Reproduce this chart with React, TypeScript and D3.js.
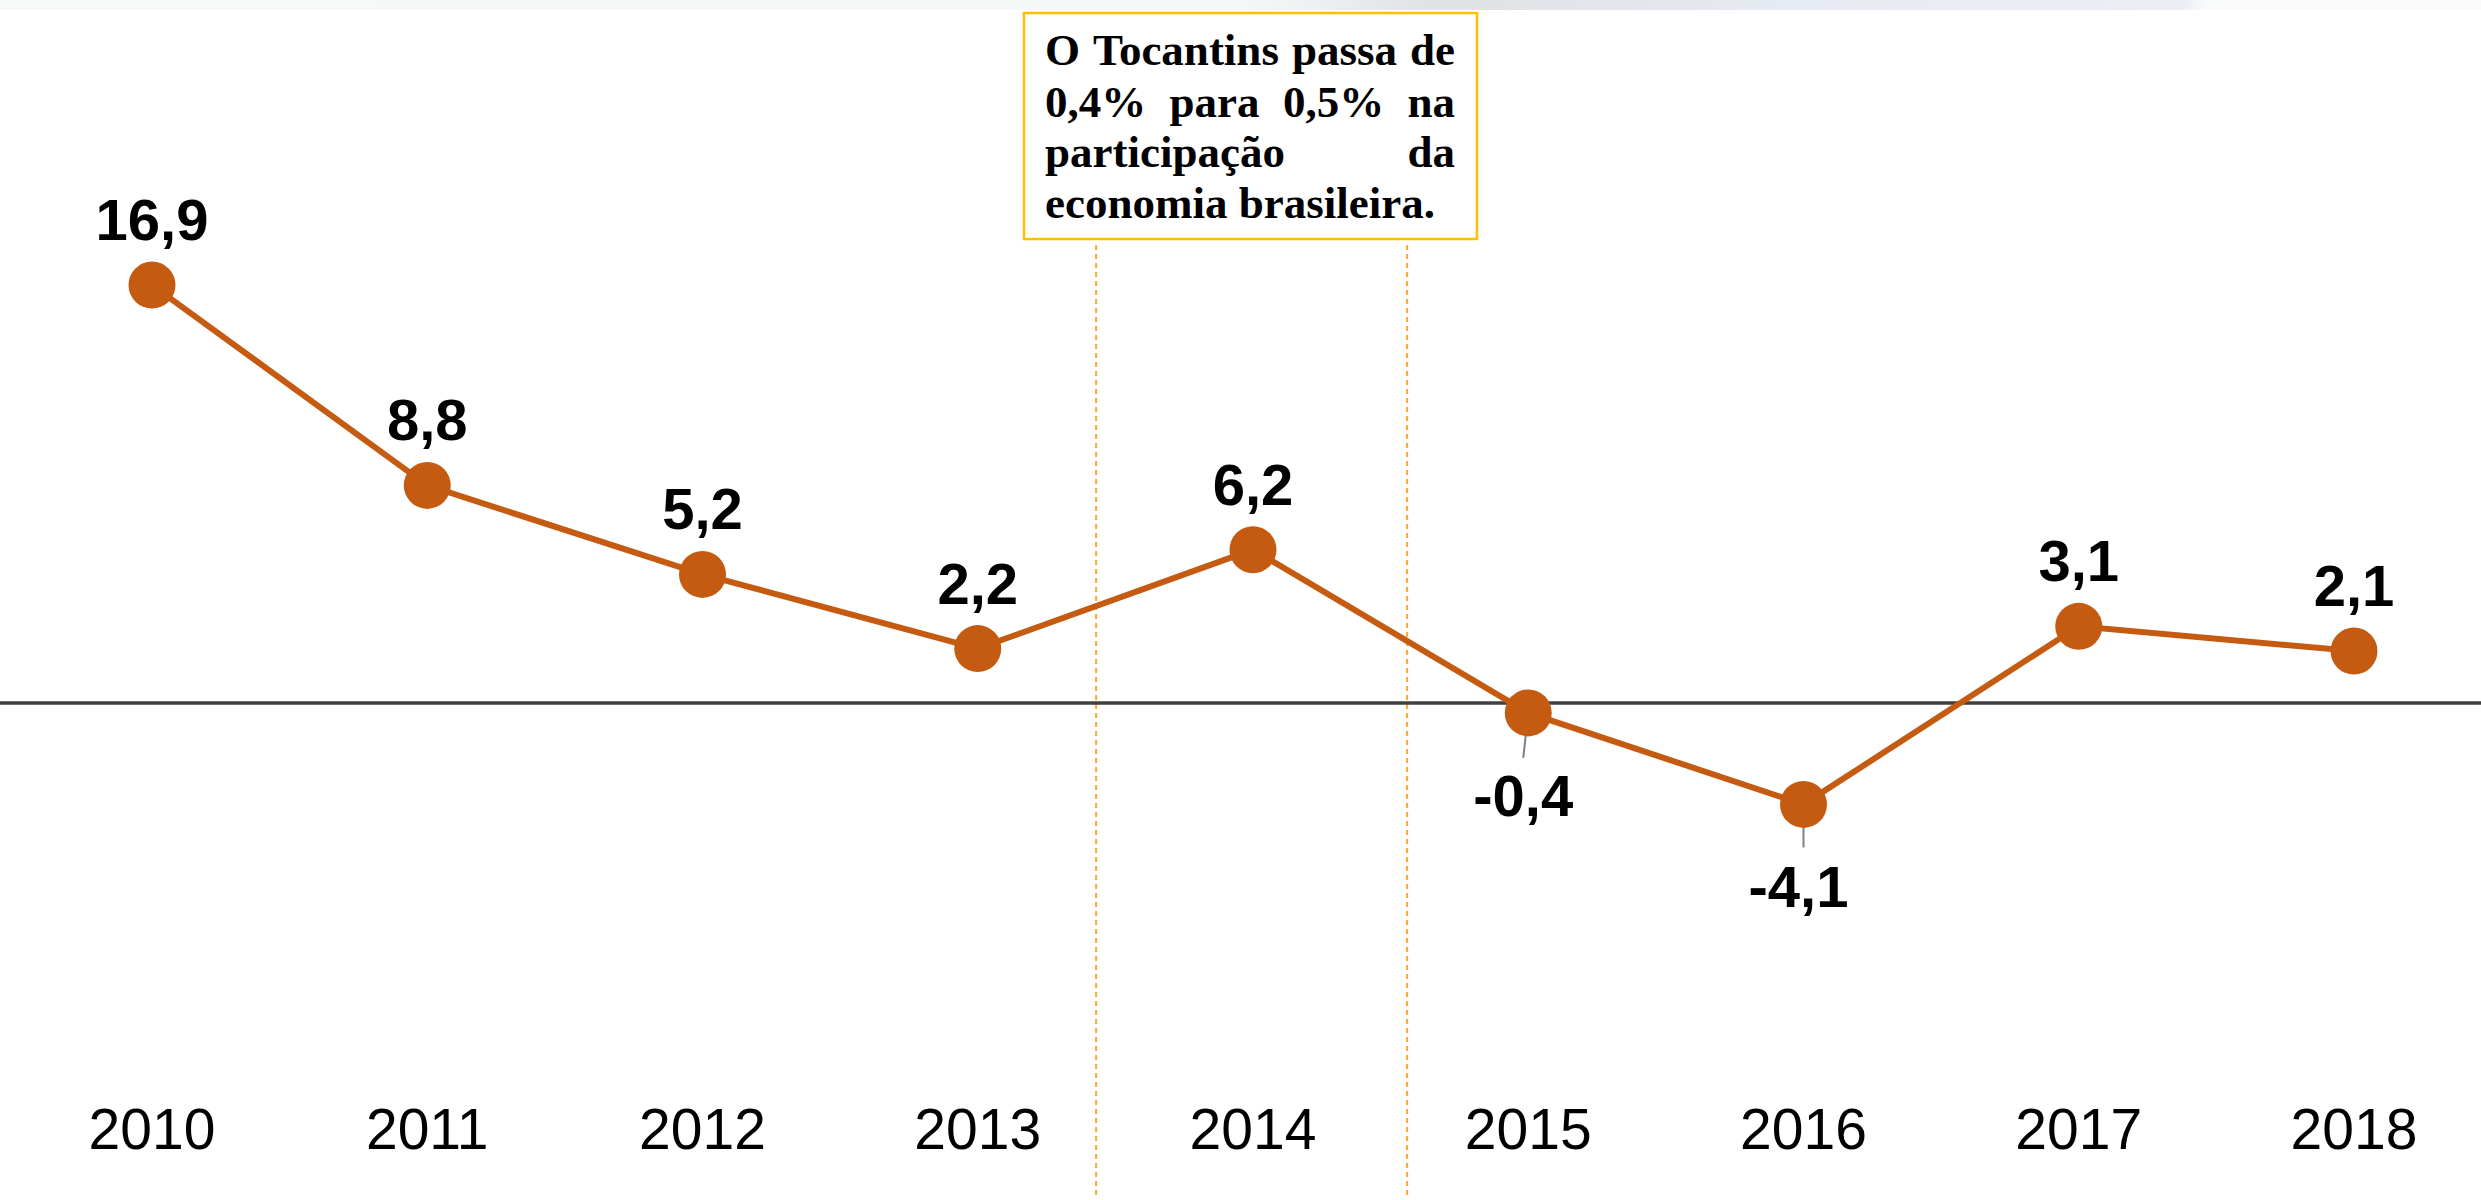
import * as d3 from 'd3';
import React from 'react';

const years = ['2010', '2011', '2012', '2013', '2014', '2015', '2016', '2017', '2018'];
const growth = [16.9, 8.8, 5.2, 2.2, 6.2, -0.4, -4.1, 3.1, 2.1];
const growthLabels = ['16,9', '8,8', '5,2', '2,2', '6,2', '-0,4', '-4,1', '3,1', '2,1'];
// dashed guides framing 2014, as fractional year positions
const guideYears = [2013.43, 2014.56];
const noteLines = [
    'O Tocantins passa de',
    '0,4% para 0,5% na',
    'participação da',
    'economia brasileira.'
];

const W = 2481, H = 1200;
const orange = '#C55A11';
const noteFont = "bold 45px 'Liberation Serif'";

function measure(text, font) {
    const ctx = document.createElement('canvas').getContext('2d');
    ctx.font = font;
    return ctx.measureText(text).width;
}

// place words so that a line fills [left, right]; last line stays left aligned
function justify(line, left, right, last) {
    const words = line.split(' ');
    const widths = words.map(w => measure(w, noteFont));
    if (last || words.length < 2) {
        const sp = measure(' ', noteFont);
        let x = left;
        return words.map((w, i) => { const p = { w, x }; x += widths[i] + sp; return p; });
    }
    const gap = (right - left - d3.sum(widths)) / (words.length - 1);
    let x = left;
    return words.map((w, i) => { const p = { w, x }; x += widths[i] + gap; return p; });
}

export default function App() {
    const x = d3.scalePoint().domain(years).range([152, 2354]);
    const y = d3.scaleLinear().domain([-10, 20]).range([950.3, 208.4]);
    // same mapping as x, but numeric, for the guides
    const xYear = d3.scaleLinear().domain([+years[0], +years[years.length - 1]]).range(x.range());

    const line = d3.line()
        .x((d, i) => x(years[i]))
        .y(d => y(d));

    const box = { x: 1024, y: 13, w: 453, h: 226 };
    const textLeft = 1045, textRight = 1455;
    const baselines = [65, 117, 167, 218];

    return (
        <svg width={W} height={H} style={{ position: 'absolute', left: 0, top: 0, background: '#fff' }}>
            <defs>
                <linearGradient id="topStrip" x1="0" x2="1" y1="0" y2="0">
                    <stop offset="0" stopColor="#f7f9f9" />
                    <stop offset="0.5" stopColor="#f6f8f8" />
                    <stop offset="0.58" stopColor="#dfe1e4" />
                    <stop offset="0.72" stopColor="#e6eaf2" />
                    <stop offset="0.88" stopColor="#eceef4" />
                    <stop offset="0.89" stopColor="#fafbfb" />
                    <stop offset="1" stopColor="#fbfbfb" />
                </linearGradient>
            </defs>
            <rect x={0} y={0} width={W} height={10} fill="url(#topStrip)" />

            {guideYears.map((gy, i) => (
                <line key={i} x1={xYear(gy)} x2={xYear(gy)} y1={box.y + box.h + 6} y2={H - 3}
                    stroke="#FFA62B" strokeWidth={2} strokeDasharray="5,4" />
            ))}

            <line x1={0} x2={W} y1={y(0)} y2={y(0)} stroke="#404040" strokeWidth={3.5} />

            <path d={line(growth)} fill="none" stroke={orange} strokeWidth={6} />

            {growth.map((v, i) => v < 0 ? (
                <line key={'l' + i} x1={x(years[i])} y1={y(v)}
                    x2={x(years[i]) - (i === 5 ? 5 : 0)} y2={y(v) + (i === 5 ? 45 : 43)}
                    stroke="#808080" strokeWidth={2} />
            ) : null)}

            {growth.map((v, i) => (
                <circle key={'c' + i} cx={x(years[i])} cy={y(v)} r={23.5} fill={orange} />
            ))}

            {growth.map((v, i) => (
                <text key={'t' + i}
                    x={x(years[i]) - (v < 0 ? 5 : 0)}
                    y={v < 0 ? y(v) + 103 : y(v) - 45}
                    textAnchor="middle"
                    fontFamily="'Liberation Sans', Arial, sans-serif"
                    fontWeight="bold" fontSize={58} fill="#000">
                    {growthLabels[i]}
                </text>
            ))}

            {years.map(yr => (
                <text key={yr} x={x(yr)} y={1149} textAnchor="middle"
                    fontFamily="'Liberation Sans', Arial, sans-serif"
                    fontSize={57} fill="#000">
                    {yr}
                </text>
            ))}

            <rect x={box.x} y={box.y} width={box.w} height={box.h}
                fill="#fff" stroke="#FFC000" strokeWidth={2.5} />
            {noteLines.map((ln, li) => (
                <text key={'n' + li} y={baselines[li]}
                    fontFamily="'Liberation Serif', serif" fontWeight="bold"
                    fontSize={45} fill="#000">
                    {justify(ln, textLeft, textRight, li === noteLines.length - 1).map((p, k) => (
                        <tspan key={k} x={p.x}>{p.w}</tspan>
                    ))}
                </text>
            ))}
        </svg>
    );
}
